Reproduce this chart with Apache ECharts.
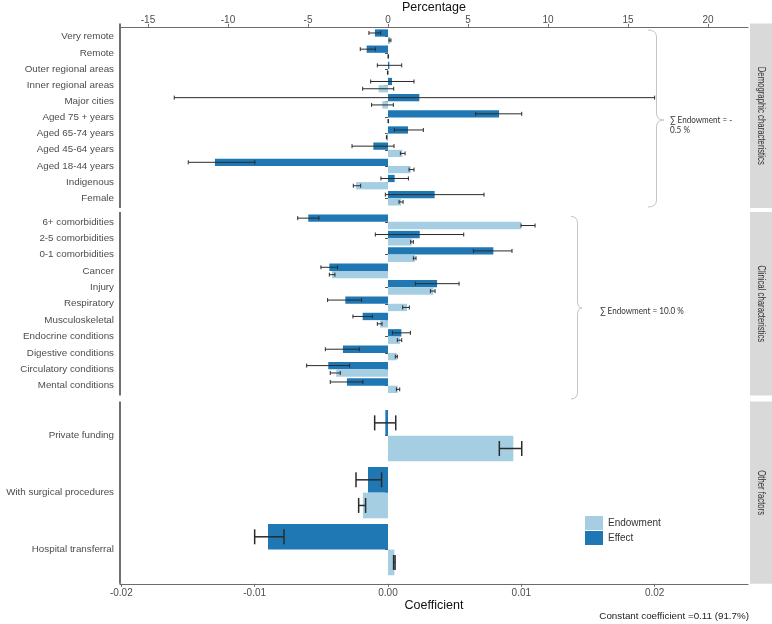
<!DOCTYPE html>
<html>
<head>
<meta charset="utf-8">
<script src="https://cdn.jsdelivr.net/npm/echarts@6/dist/echarts.min.js"></script>
<style>html,body{margin:0;padding:0;background:#fff}#c{width:772px;height:624px}</style>
</head>
<body>
<div id="c"></div>
<script>
// ---------- DATA (coefficients) ----------
const cats1 = ['Very remote','Remote','Outer regional areas','Inner regional areas','Major cities','Aged 75 + years','Aged 65-74 years','Aged 45-64 years','Aged 18-44 years','Indigenous','Female'];
const effect1   = [-0.00098,-0.00160, 0.00010, 0.00030, 0.00235, 0.00833, 0.00150,-0.00110,-0.01298, 0.00050, 0.00350];
const effectLo1 = [-0.00143,-0.00208,-0.00080,-0.00130,-0.01603, 0.00658, 0.00048,-0.00270,-0.01498,-0.00053,-0.00020];
const effectHi1 = [-0.00055,-0.00095, 0.00103, 0.00195, 0.02000, 0.01003, 0.00265, 0.00045,-0.00998, 0.00153, 0.00720];
const endow1    = [ 0.00015, 0.00002,-0.00002,-0.00070,-0.00043, 0.00002,-0.00010, 0.00108, 0.00170,-0.00240, 0.00098];
const endowLo1  = [ 0.00008, 0.00000,-0.00004,-0.00190,-0.00123, 0.00000,-0.00012, 0.00093, 0.00158,-0.00260, 0.00083];
const endowHi1  = [ 0.00022, 0.00004, 0.00000, 0.00043, 0.00040, 0.00004,-0.00008, 0.00128, 0.00195,-0.00205, 0.00113];

const cats2 = ['6+ comorbidities','2-5 comorbidities','0-1 comorbidities','Cancer','Injury','Respiratory','Musculoskeletal','Endocrine conditions','Digestive conditions','Circulatory conditions','Mental conditions'];
const effect2   = [-0.00598, 0.00238, 0.00790,-0.00440, 0.00368,-0.00320,-0.00190, 0.00100,-0.00338,-0.00448,-0.00308];
const effectLo2 = [-0.00677,-0.00095, 0.00640,-0.00503, 0.00205,-0.00453,-0.00263, 0.00033,-0.00470,-0.00610,-0.00433];
const effectHi2 = [-0.00518, 0.00568, 0.00930,-0.00378, 0.00533,-0.00198,-0.00118, 0.00168,-0.00215,-0.00288,-0.00188];
const endow2    = [ 0.00998, 0.00178, 0.00203,-0.00420, 0.00340, 0.00143,-0.00060, 0.00090, 0.00065,-0.00388, 0.00073];
const endowLo2  = [ 0.00998, 0.00170, 0.00190,-0.00440, 0.00318, 0.00110,-0.00080, 0.00070, 0.00055,-0.00433, 0.00063];
const endowHi2  = [ 0.01103, 0.00190, 0.00210,-0.00398, 0.00353, 0.00160,-0.00045, 0.00103, 0.00070,-0.00358, 0.00088];

const cats3 = ['Private funding','With surgical procedures','Hospital transferral'];
const effect3   = [-0.00020,-0.00150,-0.00900];
const effectLo3 = [-0.00100,-0.00240,-0.01000];
const effectHi3 = [ 0.00058,-0.00048,-0.00780];
const endow3    = [ 0.00940,-0.00188, 0.00048];
const endowLo3  = [ 0.00835,-0.00220, 0.00042];
const endowHi3  = [ 0.01003,-0.00168, 0.00053];

const facetLabels = ['Demographic characteristics','Clinical characteristics','Other factors'];
const coefTicks = [-0.02,-0.01,0,0.01,0.02];
const pctTicks = [-15,-10,-5,0,5,10,15,20];
const total = 0.12; // percentage = coefficient / total * 100
const xMin = -0.0201, xMax = 0.0270;

// ---------- LAYOUT ----------
const L = 120, R = 748;
const frames = [[23.5,208],[212,395.5],[401.5,583.8]];
const ns = [cats1.length, cats2.length, cats3.length];
const bands = frames.map((f,i)=>(f[1]-f[0])/(ns[i]+0.2));
const grids = frames.map((f,i)=>({left:L, right:772-R, top:f[0]+0.1*bands[i], height:ns[i]*bands[i]}));
const capPx = [4,4,15], errLw = [1,1,1.5];
const cEff = '#1F78B4', cEnd = '#A6CEE3';
const font = 'Liberation Sans, Arial, sans-serif';

const catsAll = [cats1,cats2,cats3];
const effAll = [effect1,effect2,effect3], effLoAll=[effectLo1,effectLo2,effectLo3], effHiAll=[effectHi1,effectHi2,effectHi3];
const endAll = [endow1,endow2,endow3], endLoAll=[endowLo1,endowLo2,endowLo3], endHiAll=[endowHi1,endowHi2,endowHi3];

const xAxes = [], yAxes = [], series = [];
for (let g=0; g<3; g++) {
  const isBottom = g===2;
  xAxes.push({
    type:'value', gridIndex:g, min:xMin, max:xMax, position:'bottom',
    show:isBottom, offset: isBottom?0.1*bands[2]:0,
    splitLine:{show:false},
    axisLine:{show:true, lineStyle:{color:'#6b6b6b', width:1.2}},
    axisTick:{show:true, length:3, lineStyle:{color:'#6b6b6b'}, customValues:coefTicks},
    axisLabel:{customValues:coefTicks, formatter:v=>v.toFixed(2), color:'#4d4d4d', fontSize:10, fontFamily:font, margin:4},
    name: isBottom?'Coefficient':'', nameLocation:'middle', nameGap:13,
    nameTextStyle:{color:'#111', fontSize:12.5, fontFamily:font}
  });
  yAxes.push({
    type:'category', gridIndex:g, data:catsAll[g], inverse:true,
    axisLine:{show:false},
    axisTick:{show:true, alignWithLabel:true, length:3, lineStyle:{color:'#555'}},
    axisLabel:{color:'#4d4d4d', fontSize:9.8, fontFamily:font, margin:6},
    splitLine:{show:false}
  });
}
// top percentage axis in first grid
xAxes.push({
  type:'value', gridIndex:0, position:'top', min:xMin/total*100, max:xMax/total*100,
  offset:0.1*bands[0], splitLine:{show:false},
  axisLine:{show:true, lineStyle:{color:'#6b6b6b', width:1.2}},
  axisTick:{show:true, length:3, lineStyle:{color:'#6b6b6b'}, customValues:pctTicks},
  axisLabel:{customValues:pctTicks, color:'#4d4d4d', fontSize:10, fontFamily:font, margin:2},
  name:'Percentage', nameLocation:'middle', nameGap:11,
  nameTextStyle:{color:'#111', fontSize:12.5, fontFamily:font}
});

function errSeries(g, lo, hi, pos) {
  return {
    type:'custom', xAxisIndex:g, yAxisIndex:g, silent:true, z:5,
    data: lo.map((l,i)=>[i,l,hi[i]]),
    encode:{x:[1,2], y:0},
    renderItem:function(params, api){
      const idx = api.value(0);
      const c0 = api.coord([0, idx]);
      const band = Math.abs(api.coord([0,1])[1]-api.coord([0,0])[1]);
      const y = c0[1] + pos*0.225*band;
      const x1 = api.coord([api.value(1), idx])[0];
      const x2 = api.coord([api.value(2), idx])[0];
      const st = {stroke:'#2b2b2b', lineWidth:errLw[g]};
      const h = capPx[g]/2;
      return {type:'group', children:[
        {type:'line', shape:{x1:x1,y1:y,x2:x2,y2:y}, style:st},
        {type:'line', shape:{x1:x1,y1:y-h,x2:x1,y2:y+h}, style:st},
        {type:'line', shape:{x1:x2,y1:y-h,x2:x2,y2:y+h}, style:st}
      ]};
    }
  };
}

for (let g=0; g<3; g++) {
  series.push({type:'bar', name:'Effect', xAxisIndex:g, yAxisIndex:g, data:effAll[g], itemStyle:{color:cEff}, barGap:'0%', barCategoryGap:'10%'});
  series.push({type:'bar', name:'Endowment', xAxisIndex:g, yAxisIndex:g, data:endAll[g], itemStyle:{color:cEnd}, barGap:'0%', barCategoryGap:'10%'});
  series.push(errSeries(g, effLoAll[g], effHiAll[g], -1));
  series.push(errSeries(g, endLoAll[g], endHiAll[g], 1));
}

// ---------- DECORATIONS ----------
const graphics = [];
frames.forEach((f,i)=>{
  graphics.push({type:'line', shape:{x1:L,y1:f[0],x2:L,y2:f[1]}, style:{stroke:'#222', lineWidth:1.3}});
  graphics.push({type:'rect', shape:{x:750,y:f[0],width:22,height:f[1]-f[0]}, style:{fill:'#D9D9D9'}});
  graphics.push({type:'text', x:761, y:(f[0]+f[1])/2, rotation:-Math.PI/2, scaleX:0.74,
    style:{text:facetLabels[i], fill:'#333', font:'10.5px "Liberation Sans", Arial, sans-serif', align:'center', verticalAlign:'middle'}});
});
function brace(xs, xv, xt, y0, ym, y1) {
  const r = 7, st = {stroke:'#c4c4c4', lineWidth:1, fill:null};
  return [
    {type:'bezierCurve', shape:{x1:xs,y1:y0,x2:xv,y2:y0+r,cpx1:xv,cpy1:y0}, style:st},
    {type:'line', shape:{x1:xv,y1:y0+r,x2:xv,y2:ym-r}, style:st},
    {type:'bezierCurve', shape:{x1:xv,y1:ym-r,x2:xt,y2:ym,cpx1:xv,cpy1:ym}, style:st},
    {type:'bezierCurve', shape:{x1:xt,y1:ym,x2:xv,y2:ym+r,cpx1:xv,cpy1:ym}, style:st},
    {type:'line', shape:{x1:xv,y1:ym+r,x2:xv,y2:y1-r}, style:st},
    {type:'bezierCurve', shape:{x1:xv,y1:y1-r,x2:xs,y2:y1,cpx1:xv,cpy1:y1}, style:st}
  ];
}
brace(648,656.5,664,30,120,207).forEach(e=>graphics.push(e));
brace(571,577.5,582,216.5,308,399).forEach(e=>graphics.push(e));
graphics.push({type:'text', x:670, y:125, scaleX:0.9, style:{text:'∑ Endowment = -\n0.5 %', fill:'#333', font:'9px Lato, sans-serif', verticalAlign:'middle', lineHeight:9.5}});
graphics.push({type:'text', x:600, y:311, scaleX:0.9, style:{text:'∑ Endowment = 10.0 %', fill:'#333', font:'9px Lato, sans-serif', verticalAlign:'middle'}});
graphics.push({type:'text', x:749, y:616, style:{text:'Constant coefficient =0.11 (91.7%)', fill:'#222', font:'9.8px "Liberation Sans", Arial, sans-serif', align:'right', verticalAlign:'middle'}});

const chart = echarts.init(document.getElementById('c'), null, {renderer:'canvas'});
chart.setOption({
  animation:false,
  grid: grids,
  xAxis: xAxes,
  yAxis: yAxes,
  series: series,
  legend:{data:['Endowment','Effect'], orient:'vertical', left:585, top:516, padding:0, itemWidth:18, itemHeight:14, itemGap:1, icon:'rect',
    textStyle:{color:'#333', fontSize:10, fontFamily:font}, selectedMode:false},
  graphic: graphics
});
</script>
</body>
</html>
